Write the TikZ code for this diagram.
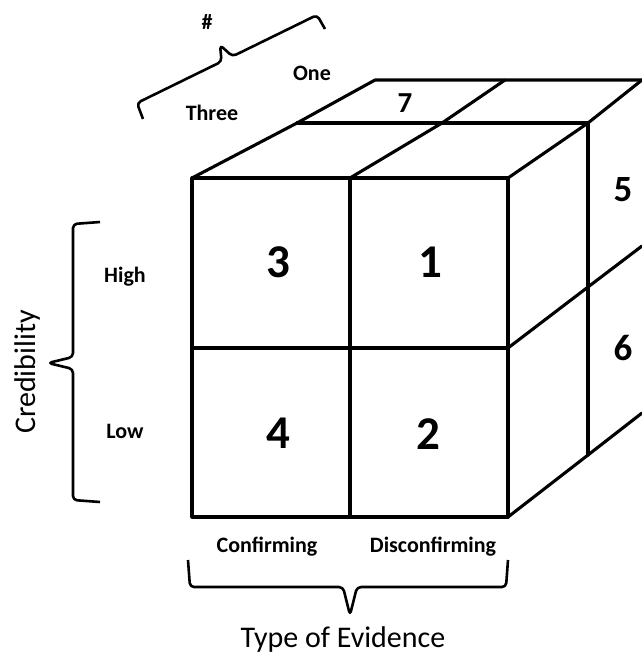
\documentclass[tikz,border=0pt]{standalone}
\usepackage{fontspec}
\setmainfont{Carlito}
\usepackage{tikz}
\usetikzlibrary{positioning, calc}

\begin{document}
\begin{tikzpicture}[
    x=1pt, y=-1pt,
    edge/.style={line width=3.1pt, line join=round, line cap=round},
    bracket/.style={line width=2.6pt, rounded corners=4pt, line join=round},
    bignum/.style={font=\fontsize{47}{47}\selectfont\bfseries},
    sidenum/.style={font=\fontsize{37}{37}\selectfont\bfseries},
    topnum/.style={font=\fontsize{29}{29}\selectfont\bfseries},
    tag/.style={font=\fontsize{22}{22}\selectfont\bfseries},
    axis/.style={font=\fontsize{30}{30}\selectfont}
]
\useasboundingbox (0,0) rectangle (642,656);

% Front face
\coordinate (ftl) at (192,178);
\coordinate (ftm) at (350,178);
\coordinate (ftr) at (508,178);
\coordinate (fml) at (192,348);
\coordinate (fmr) at (508,348);
\coordinate (fbl) at (192,517);
\coordinate (fbm) at (350,517);
\coordinate (fbr) at (508,517);
\draw[edge] (ftl) rectangle (fbr);
\draw[edge] (ftm) -- (fbm);
\draw[edge] (fml) -- (fmr);

% Top face
\coordinate (mtl) at (297,123);
\coordinate (mtm) at (442,123);
\coordinate (mtr) at (588,123);
\coordinate (btl) at (375,80);
\coordinate (btm) at (505,80);
\coordinate (btr) at (642,80);
\draw[edge] (ftl) -- (mtl) -- (btl) -- (btr);
\draw[edge] (mtl) -- (mtr);
\draw[edge] (ftm) -- (mtm) -- (btm);
\draw[edge] (ftr) -- (mtr) -- (btr);

% Side face
\coordinate (mmr) at (588,287);
\coordinate (bmr) at (642,246);
\coordinate (mbr) at (588,455);
\coordinate (bbr) at (642,413);
\draw[edge] (mtr) -- (mbr);
\draw[edge] (fmr) -- (mmr) -- (bmr);
\draw[edge] (fbr) -- (mbr) -- (bbr);

% Cell numbers
\node[bignum] (n3) at (278,262) {3};
\node[bignum] (n1) at (430,262) {1};
\node[bignum] (n4) at (278,433) {4};
\node[bignum] (n2) at (428,434) {2};
\node[sidenum] (n5) at (623,190) {5};
\node[sidenum] (n6) at (623,348) {6};
\node[topnum] (n7) at (405,103) {7};

% Depth labels
\node[tag] (three) at (212,113) {Three};
\node[tag] (one) at (312,73) {One};
\node[tag] (hash) at (207,22) {\#};
\draw[bracket] (143,119) -- (137,103) -- (221.6,61.6) -- (220,45) -- (232.4,56.4) -- (317,15) -- (325,29);

% Credibility labels
\node[tag] (high) at (125,277) {High};
\node[tag] (low) at (125,431) {Low};
\node[axis, rotate=90] (cred) at (28,372) {Credibility};
\draw[bracket] (100,222) -- (73,224) -- (73,357) -- (48,363) -- (73,369) -- (73,500) -- (100,502);

% Evidence labels
\node[tag] (conf) at (267,547) {Confirming};
\node[tag] (disc) at (433,547) {Disconfirming};
\node[axis] (type) at (343,639) {Type of Evidence};
\draw[bracket] (188,560) -- (190,587) -- (343,587) -- (350,615) -- (357,587) -- (506,587) -- (508,560);

\end{tikzpicture}
\end{document}
